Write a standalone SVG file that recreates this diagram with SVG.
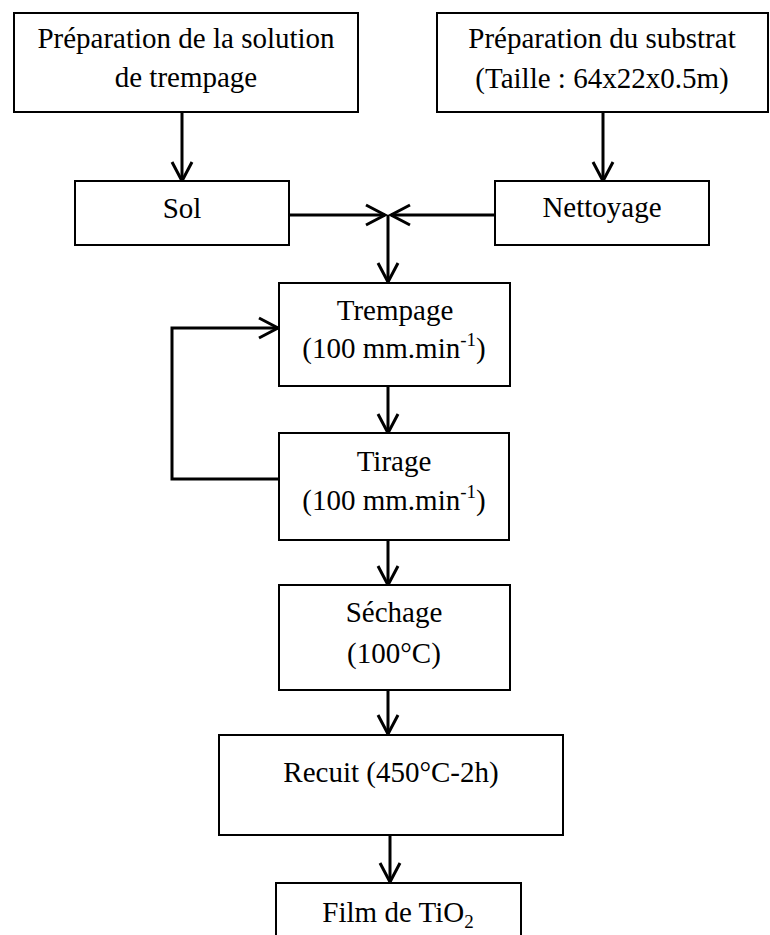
<svg xmlns="http://www.w3.org/2000/svg" width="770" height="935" viewBox="0 0 770 935" font-family="'Liberation Serif', 'Times New Roman', serif">
<style>
.box{fill:#fff;stroke:#000;stroke-width:2}
.t{font-family:'Liberation Serif','Times New Roman',serif;font-size:29px;fill:#000;text-anchor:middle}
.c{fill:none;stroke:#000;stroke-width:3;marker-end:url(#ah)}
</style>
<defs>
<marker id="ah" markerUnits="userSpaceOnUse" markerWidth="24" markerHeight="24" refX="20" refY="12" orient="auto">
<path d="M1,2 L20,12 L1,22" fill="none" stroke="#000" stroke-width="3"/>
</marker>
</defs>
<rect width="770" height="935" fill="#fff"/>
<g id="connectors">
<line class="c" x1="182" y1="112" x2="182" y2="181"/>
<line class="c" x1="603" y1="112" x2="603" y2="181"/>
<line class="c" x1="289" y1="215" x2="385" y2="215"/>
<line class="c" x1="495" y1="215" x2="391" y2="215"/>
<line class="c" x1="388" y1="215" x2="388" y2="282"/>
<line class="c" x1="388" y1="386" x2="388" y2="433"/>
<polyline class="c" points="279,479 172,479 172,328 278,328"/>
<line class="c" x1="388" y1="540" x2="388" y2="585"/>
<line class="c" x1="388" y1="690" x2="388" y2="734"/>
<line class="c" x1="390" y1="835" x2="390" y2="882"/>
</g>
<g id="n1"><rect class="box" x="14" y="13" width="344" height="99"/>
<text class="t" x="186" y="48">Préparation de la solution</text>
<text class="t" x="186" y="87">de trempage</text></g>
<g id="n2"><rect class="box" x="437" y="13" width="331" height="99"/>
<text class="t" x="602" y="48">Préparation du substrat</text>
<text class="t" x="602" y="88">(Taille : 64x22x0.5m)</text></g>
<g id="n3"><rect class="box" x="75" y="181" width="214" height="64"/>
<text class="t" x="182" y="218">Sol</text></g>
<g id="n4"><rect class="box" x="495" y="181" width="214" height="64"/>
<text class="t" x="602" y="217">Nettoyage</text></g>
<g id="n5"><rect class="box" x="279" y="283" width="231" height="103"/>
<text class="t" x="395" y="320">Trempage</text>
<text class="t" x="394" y="358">(100 mm.min<tspan font-size="19" dy="-12">-1</tspan><tspan dy="12">)</tspan></text></g>
<g id="n6"><rect class="box" x="279" y="433" width="230" height="107"/>
<text class="t" x="394" y="471">Tirage</text>
<text class="t" x="394" y="510">(100 mm.min<tspan font-size="19" dy="-12">-1</tspan><tspan dy="12">)</tspan></text></g>
<g id="n7"><rect class="box" x="279" y="585" width="231" height="105"/>
<text class="t" x="394" y="622">Séchage</text>
<text class="t" x="394" y="663">(100°C)</text></g>
<g id="n8"><rect class="box" x="219" y="735" width="344" height="100"/>
<text class="t" x="391" y="782">Recuit (450°C-2h)</text></g>
<g id="n9"><rect class="box" x="276" y="883" width="245" height="70"/>
<text class="t" x="398" y="922">Film de TiO<tspan font-size="19" dy="6">2</tspan></text></g>
</svg>
